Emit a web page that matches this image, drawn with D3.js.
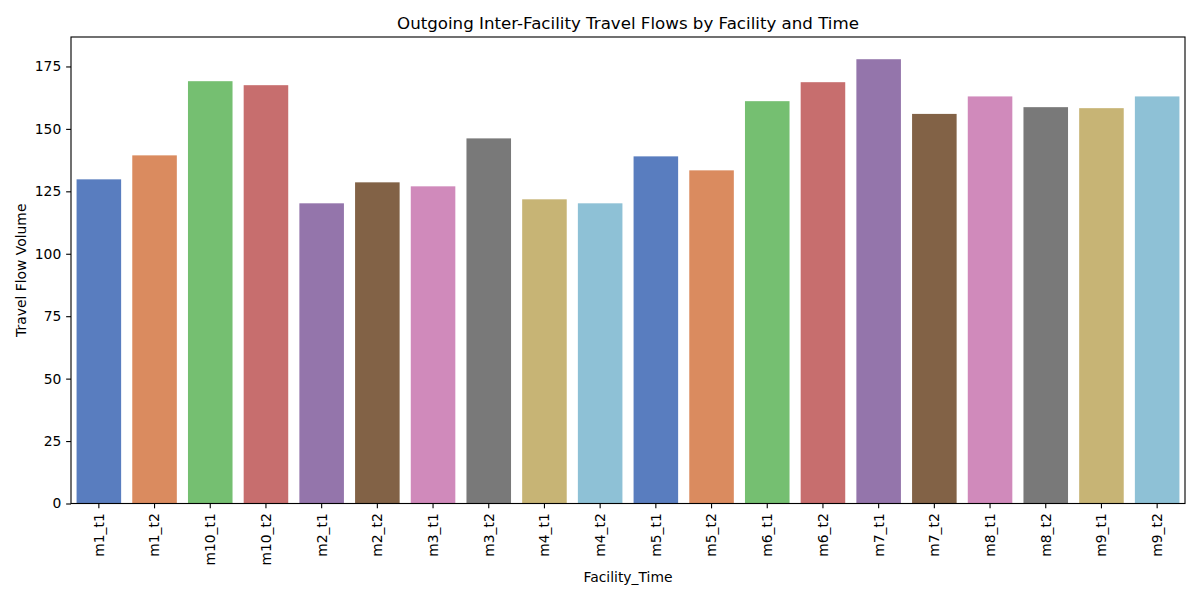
<!DOCTYPE html>
<html>
<head>
<meta charset="utf-8">
<script src="https://cdn.jsdelivr.net/npm/d3@7"></script>
<style>
  body { margin: 0; background: #fff; }
  svg { display: block; font-family: "DejaVu Sans", sans-serif; }
</style>
</head>
<body>
<svg id="chart" width="1200" height="600"></svg>
<script>
const categories = ["m1_t1","m1_t2","m10_t1","m10_t2","m2_t1","m2_t2","m3_t1","m3_t2","m4_t1","m4_t2",
                    "m5_t1","m5_t2","m6_t1","m6_t2","m7_t1","m7_t2","m8_t1","m8_t2","m9_t1","m9_t2"];
const values = [129.8,139.4,169.1,167.5,120.2,128.6,127.0,146.2,121.8,120.2,
                139.0,133.4,161.1,168.7,177.9,156.0,163.0,158.7,158.3,163.0];
const yTicks = [0,25,50,75,100,125,150,175];
const palette = ["#4878d0","#ee854a","#6acc64","#d65f5f","#956cb4","#8c613c","#dc7ec0","#797979","#d5bb67","#82c6e2"];
const titleText = "Outgoing Inter-Facility Travel Flows by Facility and Time";
const xLabel = "Facility_Time";
const yLabel = "Travel Flow Volume";

const svg = d3.select("#chart");
const m = {left: 71, right: 1185, top: 37, bottom: 503.5};
const fs = "13.89px", tickLen = 4.86, lw = 1.11;

const x = d3.scaleBand().domain(categories).range([m.left, m.right]).paddingInner(0.2).paddingOuter(0.1);
const y = d3.scaleLinear().domain([0, d3.max(values) * 1.05]).range([m.bottom, m.top]);

const desat = c => { const h = d3.hsl(c); h.s *= 0.75; return h.formatHex(); };

svg.append("g").selectAll("rect").data(categories).join("rect")
  .attr("x", d => x(d))
  .attr("y", (d, i) => y(values[i]))
  .attr("width", x.bandwidth())
  .attr("height", (d, i) => y(0) - y(values[i]))
  .attr("fill", (d, i) => desat(palette[i % palette.length]));

// axes
const xAxis = svg.append("g").attr("transform", `translate(0,${m.bottom})`)
  .call(d3.axisBottom(x).tickSize(tickLen).tickPadding(tickLen));
xAxis.select(".domain").remove();
xAxis.selectAll(".tick line").attr("stroke", "#000").attr("stroke-width", lw);
xAxis.selectAll(".tick text")
  .attr("font-size", fs).attr("fill", "#000")
  .attr("font-family", "DejaVu Sans")
  .attr("transform", "rotate(-90)")
  .attr("x", -9.7).attr("y", 0)
  .attr("dy", "0.35em")
  .attr("text-anchor", "end");

const yAxis = svg.append("g").attr("transform", `translate(${m.left},0)`)
  .call(d3.axisLeft(y).tickValues(yTicks).tickSize(tickLen).tickPadding(tickLen));
yAxis.select(".domain").remove();
yAxis.selectAll(".tick line").attr("stroke", "#000").attr("stroke-width", lw);
yAxis.selectAll(".tick text").attr("font-size", fs).attr("fill", "#000").attr("font-family", "DejaVu Sans");

// spines
svg.append("rect")
  .attr("x", m.left).attr("y", m.top)
  .attr("width", m.right - m.left).attr("height", m.bottom - m.top)
  .attr("fill", "none").attr("stroke", "#000").attr("stroke-width", lw);

svg.append("text").attr("x", (m.left + m.right) / 2).attr("y", 23)
  .attr("text-anchor", "middle").attr("dominant-baseline", "central")
  .attr("font-size", "16.67px").attr("fill", "#000").text(titleText);

svg.append("text").attr("x", (m.left + m.right) / 2).attr("y", 577)
  .attr("text-anchor", "middle").attr("dominant-baseline", "central")
  .attr("font-size", fs).attr("fill", "#000").text(xLabel);

svg.append("text")
  .attr("transform", `translate(21,${(m.top + m.bottom) / 2}) rotate(-90)`)
  .attr("text-anchor", "middle").attr("dominant-baseline", "central")
  .attr("font-size", fs).attr("fill", "#000").text(yLabel);
</script>
</body>
</html>
